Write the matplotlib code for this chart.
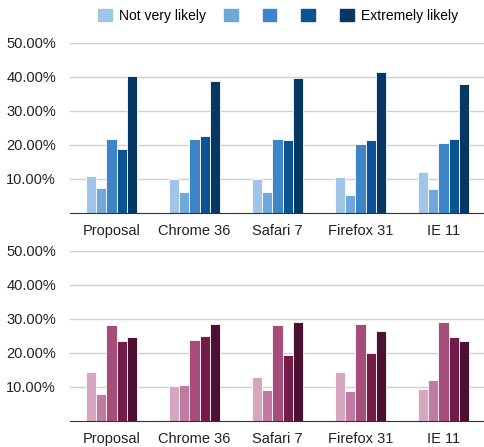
import matplotlib.pyplot as plt
import numpy as np
from matplotlib.patches import Patch
from matplotlib.ticker import FuncFormatter

plt.rcParams['font.family'] = ['Liberation Sans', 'DejaVu Sans']

browsers = ["Proposal", "Chrome 36", "Safari 7", "Firefox 31", "IE 11"]
levels = ["Not very likely", "", "", "", "Extremely likely"]

# top chart (blue), percent per likelihood level
top_vals = [
    [11.0, 10.0, 9.9, 10.7, 12.1],
    [7.3, 6.2, 6.2, 5.3, 7.1],
    [21.9, 21.9, 21.9, 20.2, 20.6],
    [18.9, 22.6, 21.5, 21.5, 21.9],
    [40.3, 38.9, 39.6, 41.6, 38.0],
]
# bottom chart (pink)
bot_vals = [
    [14.3, 10.3, 12.8, 14.4, 9.5],
    [8.0, 10.7, 9.1, 8.8, 12.1],
    [28.3, 23.7, 28.3, 28.6, 29.0],
    [23.4, 25.0, 19.3, 19.9, 24.6],
    [24.6, 28.6, 29.0, 26.6, 23.4],
]

blues = ["#9fc5e8", "#6fa8dc", "#3d85c6", "#0b5394", "#073763"]
pinks = ["#d5a6bd", "#c27ba0", "#a64d79", "#741b47", "#4c1130"]

fig = plt.figure(figsize=(4.85, 4.47), dpi=100)
ax1 = fig.add_axes([70/485, 1-213/447, 415/485, 170/447])
ax2 = fig.add_axes([70/485, 1-421/447, 415/485, 170/447])

x = np.arange(len(browsers))
w = 0.124


def draw(ax, vals, colors):
    for i, (v, c) in enumerate(zip(vals, colors)):
        ax.bar(x + (i - 2) * w, v, width=w, color=c, edgecolor='white',
               linewidth=0.6, zorder=3)
    ax.set_xlim(-0.5, 4.5)
    ax.set_ylim(0, 50)
    ax.set_yticks([10, 20, 30, 40, 50])
    ax.yaxis.set_major_formatter(FuncFormatter(lambda v, p: f"{v:.2f}%"))
    ax.set_xticks(x)
    ax.set_xticklabels(browsers)
    ax.grid(axis='y', color='#d0d0d0', linewidth=1, zorder=0)
    for s in ['top', 'right', 'left']:
        ax.spines[s].set_visible(False)
    ax.spines['bottom'].set_color('#333333')
    ax.spines['bottom'].set_zorder(4)
    ax.tick_params(axis='both', length=0, labelsize=10.5, colors='#222222')
    ax.tick_params(axis='y', pad=10)
    ax.tick_params(axis='x', pad=8)


draw(ax1, top_vals, blues)
draw(ax2, bot_vals, pinks)

handles = [Patch(color=c) for c in blues]
fig.legend(handles, levels, loc='center', bbox_to_anchor=(278/485, 1-16/447),
           ncol=5, frameon=False, fontsize=10, handlelength=1.0, handleheight=1.0,
           handletextpad=0.5, columnspacing=1.3)

fig.savefig("out.png", dpi=100)
